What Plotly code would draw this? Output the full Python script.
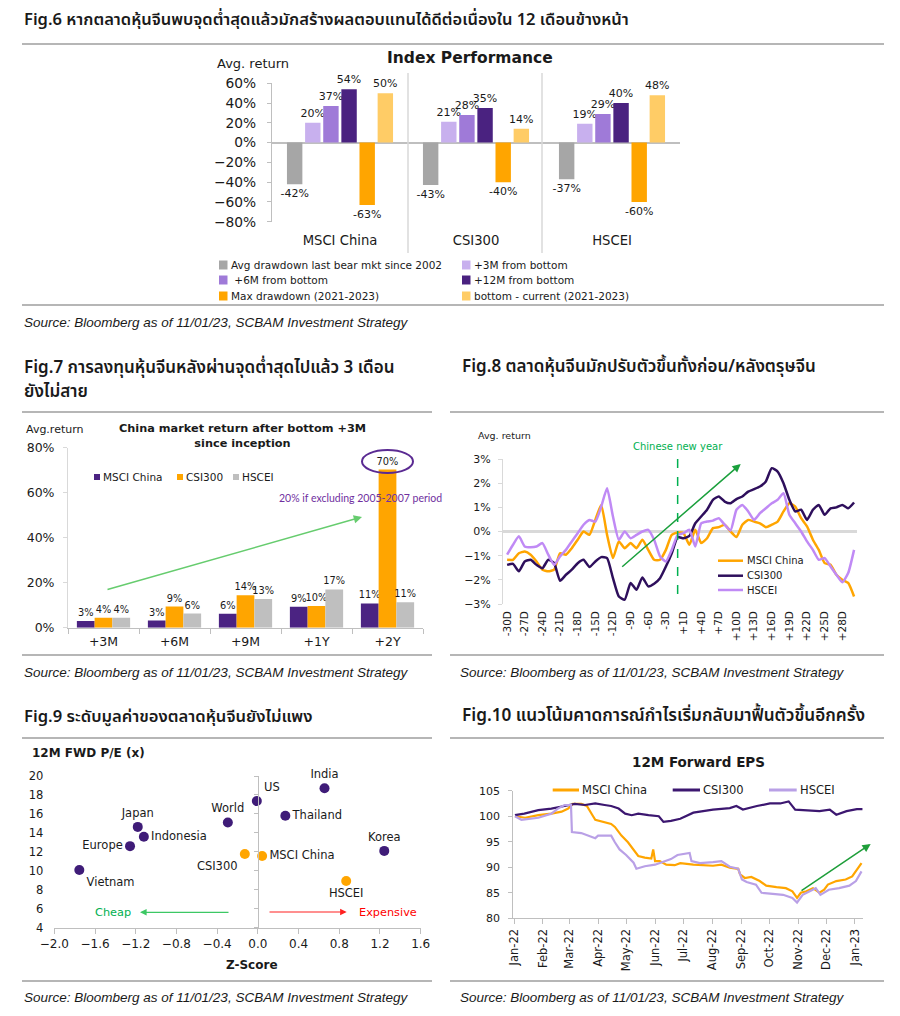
import plotly.graph_objects as go

W, H = 900, 1016
OFF = 8  # the page places the figure 8 px from the top-left corner
def px(x): return (x - OFF) / W
def py(y): return 1 - (y - OFF) / H

FONT = "DejaVu Sans"
THAI = "Noto Sans Thai, Noto Sans Thai UI, Noto Sans, DejaVu Sans, sans-serif"
SRC_FONT = "Liberation Sans, Arial, sans-serif"

# ---------------- Fig.6 data ----------------
f6_indices = ["MSCI China", "CSI300", "HSCEI"]
f6_names = ["Avg drawdown last bear mkt since 2002", "+3M from bottom", " +6M from bottom",
            "+12M from bottom", "Max drawdown (2021-2023)", "bottom - current (2021-2023)"]
f6_drawdown = [-0.42, -0.43, -0.37]
f6_3m = [0.20, 0.21, 0.19]
f6_6m = [0.37, 0.28, 0.29]
f6_12m = [0.54, 0.35, 0.40]
f6_maxdd = [-0.63, -0.40, -0.60]
f6_current = [0.50, 0.14, 0.48]
f6_colors = ["#A6A6A6", "#C8B0EE", "#9F7AD8", "#4A2280", "#FFA500", "#FFCC66"]

# ---------------- Fig.7 data ----------------
f7_periods = ["+3M", "+6M", "+9M", "+1Y", "+2Y"]
f7_names = ["MSCI China", "CSI300", "HSCEI"]
f7_msci = [0.030, 0.032, 0.062, 0.093, 0.108]
f7_csi = [0.044, 0.094, 0.144, 0.097, 0.703]
f7_hscei = [0.044, 0.063, 0.128, 0.170, 0.113]
f7_colors = ["#4B2382", "#FFA500", "#BFBFBF"]

# ---------------- Fig.8 data ----------------
f8_days = [f"-{d}D" for d in range(30, 0, -1)] + [f"+{d}D" for d in range(1, 31)]
f8_msci = [-1.17, -1.17, -0.90, -0.83, -0.96, -1.24, -1.58, -1.65, -1.58, -0.90,
           -0.96, -0.69, -0.34, 0.00, -0.14, 0.48, 1.10, -0.14, -1.10, -0.41,
           -0.69, -0.48, -0.69, -0.34, -0.76, -1.17, -1.17, -0.76, -0.14, -0.04,
           -0.07, -0.55, 0.07, -0.48, -0.28, 0.14, 0.18, 0.28, 0.00, -0.23,
           0.28, 0.48, 0.41, 0.34, 0.18, 0.28, 0.41, 0.83, 1.17, 1.03,
           0.55, 0.21, -0.34, -0.76, -1.31, -1.38, -1.79, -2.00, -2.13, -2.69]
f8_csi = [-1.38, -1.34, -1.65, -1.24, -1.17, -1.38, -1.52, -1.17, -1.31, -2.04,
          -1.79, -1.58, -1.31, -1.17, -1.47, -1.24, -1.06, -1.10, -1.93, -2.69,
          -2.82, -2.13, -2.41, -1.90, -2.27, -2.16, -1.93, -1.45, -0.90, -0.23,
          -0.28, -0.18, 0.34, 0.62, 0.90, 1.31, 1.45, 1.24, 1.17, 1.34,
          1.45, 1.65, 1.75, 1.86, 2.07, 2.62, 2.48, 2.00, 1.31, 0.83,
          0.90, 0.48, 0.90, 1.10, 0.69, 0.96, 1.00, 1.10, 0.96, 1.20]
f8_hscei = [-0.96, -0.55, -0.20, -0.62, -0.65, -0.62, -0.48, -0.96, -1.38, -1.03,
            -0.76, -0.41, -0.07, 0.28, 0.48, 0.41, 1.03, 1.79, 0.62, -0.34,
            0.00, -0.28, -0.14, 0.00, 0.07, -0.34, -1.03, -1.24, -0.76, -0.14,
            -0.07, 0.07, -0.62, 0.34, 0.41, 0.45, 0.55, 0.28, 0.04, 0.90,
            1.10, 0.83, 0.48, 0.76, 0.96, 1.17, 1.31, 1.58, 0.69, 0.34,
            0.00, -0.41, -0.76, -1.17, -1.10, -1.45, -1.79, -2.10, -1.72, -0.76]
f8_names = ["MSCI China", "CSI300", "HSCEI"]
f8_colors = ["#FFA500", "#2E0F5C", "#C08AF5"]

# ---------------- Fig.9 data ----------------
f9_names = ["India", "US", "Thailand", "World", "Japan", "Indonesia", "Europe", "Vietnam", "Korea"]
f9_z = [0.655, -0.01, 0.27, -0.295, -1.18, -1.12, -1.256, -1.754, 1.242]
f9_pe = [18.7, 17.36, 15.8, 15.1, 14.63, 13.6, 12.6, 10.08, 12.1]
f9_pos = ["top center", "top right", "middle right", "top center", "top center",
          "middle right", "middle left", "bottom right", "top center"]
f9_cn_names = ["CSI300", "MSCI China", "HSCEI"]
f9_cn_z = [-0.128, 0.042, 0.868]
f9_cn_pe = [11.77, 11.56, 8.92]
f9_cn_pos = ["bottom left", "middle right", "bottom center"]

# ---------------- Fig.10 data ----------------
f10_msci_dates = ["2022-01-02", "2022-01-13", "2022-01-27", "2022-02-10", "2022-02-21", "2022-02-28",
                  "2022-03-05", "2022-03-14", "2022-03-20", "2022-03-23", "2022-03-26", "2022-03-29",
                  "2022-04-08", "2022-04-15", "2022-04-19", "2022-04-26", "2022-05-03", "2022-05-09",
                  "2022-05-14", "2022-05-21", "2022-05-28", "2022-05-30", "2022-06-01", "2022-06-06",
                  "2022-06-13", "2022-06-22", "2022-06-28", "2022-07-12", "2022-08-02", "2022-08-11",
                  "2022-08-20", "2022-08-29", "2022-08-31", "2022-09-05", "2022-09-12", "2022-09-21",
                  "2022-09-28", "2022-10-09", "2022-10-19", "2022-10-26", "2022-10-31", "2022-11-04",
                  "2022-11-10", "2022-11-17", "2022-11-24", "2022-11-29", "2022-12-03", "2022-12-12",
                  "2022-12-22", "2022-12-29", "2023-01-03", "2023-01-08"]
f10_msci = [100.0, 99.7, 100.2, 100.5, 100.9, 101.5, 102.4, 102.4, 102.0, 101.2, 100.2, 99.3,
            98.9, 98.5, 97.9, 96.2, 94.9, 93.5, 92.2, 91.9, 91.7, 93.5, 91.2, 91.2,
            90.5, 90.4, 90.8, 90.5, 90.3, 90.5, 89.9, 89.7, 88.6, 87.9, 88.1, 87.3,
            86.4, 86.1, 85.9, 85.3, 84.0, 85.0, 85.3, 85.9, 85.0, 85.6, 86.6, 87.3,
            87.6, 88.2, 89.5, 90.8]
f10_csi_dates = ["2022-01-02", "2022-01-12", "2022-01-27", "2022-02-10", "2022-02-24", "2022-03-07",
                 "2022-03-18", "2022-03-29", "2022-04-08", "2022-04-15", "2022-04-23", "2022-04-30",
                 "2022-05-07", "2022-05-14", "2022-05-25", "2022-06-05", "2022-06-10", "2022-06-18",
                 "2022-06-28", "2022-07-12", "2022-08-02", "2022-08-20", "2022-08-27", "2022-09-03",
                 "2022-09-18", "2022-10-02", "2022-10-13", "2022-10-22", "2022-10-29", "2022-11-10",
                 "2022-11-24", "2022-12-05", "2022-12-12", "2022-12-23", "2023-01-03", "2023-01-09"]
f10_csi = [100.2, 100.5, 101.2, 101.5, 102.0, 102.4, 102.2, 102.5, 102.2, 102.0, 101.5, 100.5,
           100.2, 100.5, 100.2, 100.0, 98.9, 99.1, 99.5, 100.7, 101.3, 101.6, 102.0, 101.3,
           102.0, 102.5, 102.5, 102.9, 101.3, 101.2, 101.0, 101.3, 100.3, 101.0, 101.4, 101.4]
f10_hscei_dates = ["2022-01-02", "2022-01-09", "2022-01-27", "2022-02-10", "2022-02-17", "2022-02-24",
                   "2022-03-03", "2022-03-04", "2022-03-14", "2022-03-21", "2022-03-29", "2022-04-01",
                   "2022-04-15", "2022-04-19", "2022-04-24", "2022-05-01", "2022-05-09", "2022-05-12",
                   "2022-05-21", "2022-06-01", "2022-06-08", "2022-06-18", "2022-06-25", "2022-07-08",
                   "2022-07-10", "2022-07-19", "2022-08-02", "2022-08-11", "2022-08-20", "2022-08-29",
                   "2022-09-02", "2022-09-07", "2022-09-17", "2022-09-23", "2022-10-05", "2022-10-16",
                   "2022-10-26", "2022-10-31", "2022-11-06", "2022-11-13", "2022-11-20", "2022-11-25",
                   "2022-12-04", "2022-12-15", "2022-12-26", "2023-01-02", "2023-01-08"]
f10_hscei = [100.0, 99.3, 99.7, 100.5, 101.5, 102.2, 102.2, 96.9, 96.7, 96.2, 95.7, 96.2,
             96.2, 94.9, 93.5, 92.4, 90.9, 89.7, 90.2, 90.5, 90.9, 91.6, 92.4, 92.8,
             91.2, 90.8, 91.0, 91.2, 90.1, 89.7, 87.6, 87.1, 86.6, 85.0, 84.8, 84.6,
             84.0, 83.1, 84.6, 85.3, 85.9, 84.6, 85.6, 85.9, 86.4, 87.3, 89.2]
f10_names = ["MSCI China", "CSI300", "HSCEI"]
f10_colors = ["#FFA500", "#3C1770", "#B9A0E6"]

# ---------------- text ----------------
titles = [
    (22, 20, "Fig.6 หากตลาดหุ้นจีนพบจุดต่ำสุดแล้วมักสร้างผลตอบแทนได้ดีต่อเนื่องใน 12 เดือนข้างหน้า", 16.5),
    (22, 368, "Fig.7 การลงทุนหุ้นจีนหลังผ่านจุดต่ำสุดไปแล้ว 3 เดือน", 17),
    (22, 392, "ยังไม่สาย", 17),
    (460, 367, "Fig.8 ตลาดหุ้นจีนมักปรับตัวขึ้นทั้งก่อน/หลังตรุษจีน", 17),
    (22, 716, "Fig.9 ระดับมูลค่าของตลาดหุ้นจีนยังไม่แพง", 16.6),
    (460, 716, "Fig.10 แนวโน้มคาดการณ์กำไรเริ่มกลับมาฟื้นตัวขึ้นอีกครั้ง", 17.2),
]
source_text = "Source: Bloomberg as of 11/01/23, SCBAM Investment Strategy"
sources = [(22, 322), (22, 672), (458, 672), (22, 997), (458, 997)]

fig = go.Figure()
annotations = []
shapes = []

def T(x, y, text, size=12, color="#1a1a1a", anchor="left", family=FONT, weight="normal"):
    annotations.append(dict(x=px(x), y=py(y), xref="paper", yref="paper", text=text,
                            showarrow=False, xanchor=anchor, yanchor="middle",
                            font=dict(family=family, size=size, color=color, weight=weight)))

def L(x0, y0, x1, y1, color="#A0A0A0", width=1.5, dash="solid"):
    shapes.append(dict(type="line", xref="paper", yref="paper", x0=px(x0), y0=py(y0),
                       x1=px(x1), y1=py(y1), line=dict(color=color, width=width, dash=dash)))

def R(x0, y0, x1, y1, color):
    shapes.append(dict(type="rect", xref="paper", yref="paper", x0=px(x0), y0=py(y1),
                       x1=px(x1), y1=py(y0), fillcolor=color, line=dict(width=0)))

def ARROW(xh, yh, xt, yt, color, width=1.5):
    annotations.append(dict(x=px(xh), y=py(yh), xref="paper", yref="paper", text="",
                            showarrow=True, ax=xt - xh, ay=yt - yh, axref="pixel", ayref="pixel",
                            arrowhead=2, arrowsize=1.1, arrowwidth=width, arrowcolor=color,
                            standoff=0, startstandoff=0))

# separators
sep = "#9E9E9E"
L(22, 44, 884, 44, sep); L(22, 305, 884, 305, sep)
for yy in (412, 655, 738, 981):
    L(22, yy, 432, yy, sep); L(450, yy, 884, yy, sep)

for x, y, t, s in titles:
    T(x, y, t, size=s, color="#1a1a1a", family=THAI, weight=600)
for x, y in sources:
    T(x, y, f"<i>{source_text}</i>", size=13.5, color="#1a1a1a", family=SRC_FONT)

# ================= Fig.6 =================
f6_values = [f6_drawdown, f6_3m, f6_6m, f6_12m, f6_maxdd, f6_current]
for name, vals, col in zip(f6_names, f6_values, f6_colors):
    fig.add_trace(go.Bar(x=f6_indices, y=vals, name=name, marker=dict(color=col, line=dict(width=0)),
                         texttemplate="%{y:.0%}", textposition="outside", constraintext="none",
                         cliponaxis=False, textfont=dict(family=FONT, size=11, color="#1a1a1a"),
                         xaxis="x", yaxis="y", showlegend=False))
T(470, 58, "<b>Index Performance</b>", size=15.5, anchor="center")
T(215, 63, "Avg. return", size=13, anchor="left")
L(408, 73, 408, 253, "#D9D9D9", 1.5)
L(542, 73, 542, 253, "#D9D9D9", 1.5)
leg6_pos = [(219, 265), (462, 265), (219, 280), (462, 280), (219, 296), (462, 296)]
for (lx, ly), name, col in zip(leg6_pos, f6_names, f6_colors):
    R(lx, ly - 4.5, lx + 8.5, ly + 4.5, col)
    T(lx + 10, ly, name, size=10.5, anchor="left")

# ================= Fig.7 =================
f7_values = [f7_msci, f7_csi, f7_hscei]
for k, (name, vals, col) in enumerate(zip(f7_names, f7_values, f7_colors)):
    fig.add_trace(go.Bar(x=f7_periods, y=vals, name=name, marker=dict(color=col, line=dict(width=0)),
                         width=0.25, offset=-0.375 + 0.25 * k,
                         texttemplate="%{y:.0%}", textposition="outside", constraintext="none",
                         cliponaxis=False, textfont=dict(family=FONT, size=9.8, color="#1a1a1a"),
                         xaxis="x2", yaxis="y2", showlegend=False))
T(242, 436, "<b>China market return after bottom +3M<br>since inception</b>", size=11.3, anchor="center")
T(24, 430, "Avg.return", size=11, anchor="left")
leg7 = [(94, "MSCI China"), (177, "CSI300"), (233, "HSCEI")]
for (lx, name), col in zip(leg7, f7_colors):
    R(lx, 474, lx + 6, 480, col)
    T(lx + 7, 477, name, size=10.5, anchor="left")
shapes.append(dict(type="circle", xref="paper", yref="paper", x0=px(362), x1=px(413),
                   y0=py(473), y1=py(450), line=dict(color="#5A2A92", width=2)))
T(360, 498, "20% if excluding 2005-2007 period", size=10.5, color="#7030A0", anchor="center",
  family="Lato, Open Sans, sans-serif")
ARROW(362, 517, 106, 590, "#66CC6E", 1.5)

# ================= Fig.8 =================
for name, vals, col in zip(f8_names, [f8_msci, f8_csi, f8_hscei], f8_colors):
    fig.add_trace(go.Scatter(x=f8_days, y=vals, name=name, mode="lines",
                             line=dict(color=col, width=2.5, shape="spline", smoothing=0.5),
                             xaxis="x3", yaxis="y3", showlegend=False))
shapes.append(dict(type="line", xref="x3", yref="y3", x0=29, x1=29, y0=3, y1=-2.7,
                   line=dict(color="#00B050", width=1.5, dash="dash")))
T(678, 446, "Chinese new year", size=10, color="#00B050", anchor="center")
T(476, 436, "Avg. return", size=9.5, anchor="left")
ARROW(740.7, 464, 620.7, 568, "#1AA03C", 1.5)
for k, (name, col) in enumerate(zip(f8_names, f8_colors)):
    yy = [560.7, 575.7, 590][k]
    L(718, yy, 743, yy, col, 2.5)
    T(745, yy, name, size=10, anchor="left")

# ================= Fig.9 =================
fig.add_trace(go.Scatter(x=f9_z, y=f9_pe, mode="markers+text", text=f9_names, textposition=f9_pos,
                         marker=dict(color="#3F1C78", size=10), cliponaxis=False,
                         textfont=dict(family=FONT, size=11.5, color="#1a1a1a"),
                         xaxis="x4", yaxis="y4", showlegend=False))
fig.add_trace(go.Scatter(x=f9_cn_z, y=f9_cn_pe, mode="markers+text", text=f9_cn_names,
                         textposition=f9_cn_pos, marker=dict(color="#FFA500", size=10), cliponaxis=False,
                         textfont=dict(family=FONT, size=11.5, color="#1a1a1a"),
                         xaxis="x4", yaxis="y4", showlegend=False))
fig.add_trace(go.Scatter(x=[], y=[], xaxis="x4", yaxis="y6", showlegend=False))
T(30, 753, "<b>12M FWD P/E (x)</b>", size=12, anchor="left")
T(252, 965, "<b>Z-Score</b>", size=12, anchor="center")
T(93, 912, "Cheap", size=11.3, color="#00B050", anchor="left")
ARROW(140, 912.3, 230, 912.3, "#3CC864", 1.2)
T(357, 912, "Expensive", size=11.3, color="#FF0000", anchor="left")
ARROW(346.7, 912, 268, 912, "#FF2020", 1.2)

# ================= Fig.10 =================
for name, d, v, col in zip(f10_names, [f10_msci_dates, f10_csi_dates, f10_hscei_dates],
                           [f10_msci, f10_csi, f10_hscei], f10_colors):
    fig.add_trace(go.Scatter(x=d, y=v, name=name, mode="lines", line=dict(color=col, width=2.2),
                             xaxis="x5", yaxis="y5", showlegend=False))
T(698, 762, "<b>12M Forward EPS</b>", size=13.5, anchor="center")
leg10 = [(552.7, 579, "MSCI China"), (672.7, 700, "CSI300"), (769, 796.7, "HSCEI")]
for (a, b, name), col in zip(leg10, f10_colors):
    L(a, 790, b, 790, col, 3)
    T(b + 1, 790, name, size=11.5, anchor="left")
ARROW(870.7, 844, 800, 891.7, "#1E9E3A", 1.5)

axc = "#BFBFBF"
tickfont = lambda s: dict(family=FONT, size=s, color="#1a1a1a")
fig.update_layout(
    width=W, height=H, autosize=False,
    margin=dict(l=0, r=0, t=0, b=0, pad=0, autoexpand=False),
    paper_bgcolor="white", plot_bgcolor="white", barmode="group",
    bargap=0.2, bargroupgap=0.15, showlegend=False,
    font=dict(family=FONT, color="#1a1a1a"),
    annotations=annotations, shapes=shapes,
    # Fig.6
    xaxis=dict(domain=[px(272), px(680)], anchor="y", type="category", showline=False, ticks="",
               showgrid=False, zeroline=False, tickfont=tickfont(13.2), ticklabelstandoff=9,
               automargin=False),
    yaxis=dict(domain=[py(221.7), py(83.3)], anchor="x", range=[-0.8, 0.6], dtick=0.2,
               tickformat=".0%", showgrid=False, showline=True, linecolor=axc, linewidth=1,
               ticks="outside", ticklen=4, tickcolor=axc, zeroline=True, zerolinecolor=axc,
               zerolinewidth=1.5, tickfont=tickfont(13.8), ticklabelstandoff=8, automargin=False),
    # Fig.7
    xaxis2=dict(domain=[px(68), px(423)], anchor="y2", type="category", showline=True,
                linecolor=axc, ticks="outside", tickson="boundaries", ticklen=5, tickcolor=axc,
                showgrid=False, zeroline=False, tickfont=tickfont(12.5), ticklabelstandoff=2,
                automargin=False),
    yaxis2=dict(domain=[py(627.7), py(447.7)], anchor="x2", range=[0, 0.8], dtick=0.2,
                tickformat=".0%", showgrid=False, showline=True, linecolor="#D9D9D9",
                ticks="outside", ticklen=4, tickcolor="#D9D9D9", zeroline=False,
                tickfont=tickfont(12.5), ticklabelstandoff=6, automargin=False),
    # Fig.8
    xaxis3=dict(domain=[px(503), px(857)], anchor="y3", type="category", range=[-0.7, 59.5],
                tickmode="array", tickvals=f8_days[::3], tickangle=-90, ticks="", showline=False,
                showgrid=False, zeroline=False, tickfont=tickfont(10.5), ticklabelstandoff=4,
                automargin=False),
    yaxis3=dict(domain=[py(604), py(459)], anchor="x3", range=[-3, 3], dtick=1, ticksuffix="%",
                showgrid=False, showline=True, linecolor="#D9D9D9", ticks="outside", ticklen=4,
                tickcolor="#D9D9D9", zeroline=True, zerolinecolor="#D9D9D9", zerolinewidth=2.5,
                tickfont=tickfont(11), ticklabelstandoff=5, automargin=False),
    # Fig.9
    xaxis4=dict(domain=[px(54.3), px(420.7)], anchor="y4", range=[-2.0, 1.6], dtick=0.4,
                tickformat=".1f", showgrid=False, showline=True, linecolor=axc, ticks="outside",
                ticklen=5, tickcolor=axc, zeroline=False, tickfont=tickfont(12), automargin=False),
    yaxis4=dict(domain=[py(927.7), py(776)], anchor="x4", range=[4, 20], dtick=2,
                showgrid=False, showline=False, ticks="", zeroline=False,
                tickfont=tickfont(11.5), ticklabelstandoff=10, automargin=False),
    yaxis6=dict(overlaying="y4", anchor="free", position=px(257.7), range=[4, 20], dtick=2,
                showgrid=False, showline=True, linecolor=axc, ticks="outside", ticklen=4,
                tickcolor=axc, showticklabels=False, zeroline=False, automargin=False),
    # Fig.10
    xaxis5=dict(domain=[px(513.3), px(863)], anchor="y5", type="date",
                range=["2021-12-31 06:00", "2023-01-09 14:00"], dtick="M1", tick0="2022-01-01",
                tickformat="%b-%y", tickangle=-90, showgrid=False, showline=True, linecolor=axc,
                ticks="outside", ticklen=5, tickcolor=axc, zeroline=False, tickfont=tickfont(11.5),
                automargin=False),
    yaxis5=dict(domain=[py(918.3), py(790.7)], anchor="x5", range=[80, 105], dtick=5,
                showgrid=False, showline=True, linecolor=axc, ticks="outside", ticklen=4,
                tickcolor=axc, zeroline=False, tickfont=tickfont(11), ticklabelstandoff=6,
                automargin=False),
)

fig.write_html("out.html")
